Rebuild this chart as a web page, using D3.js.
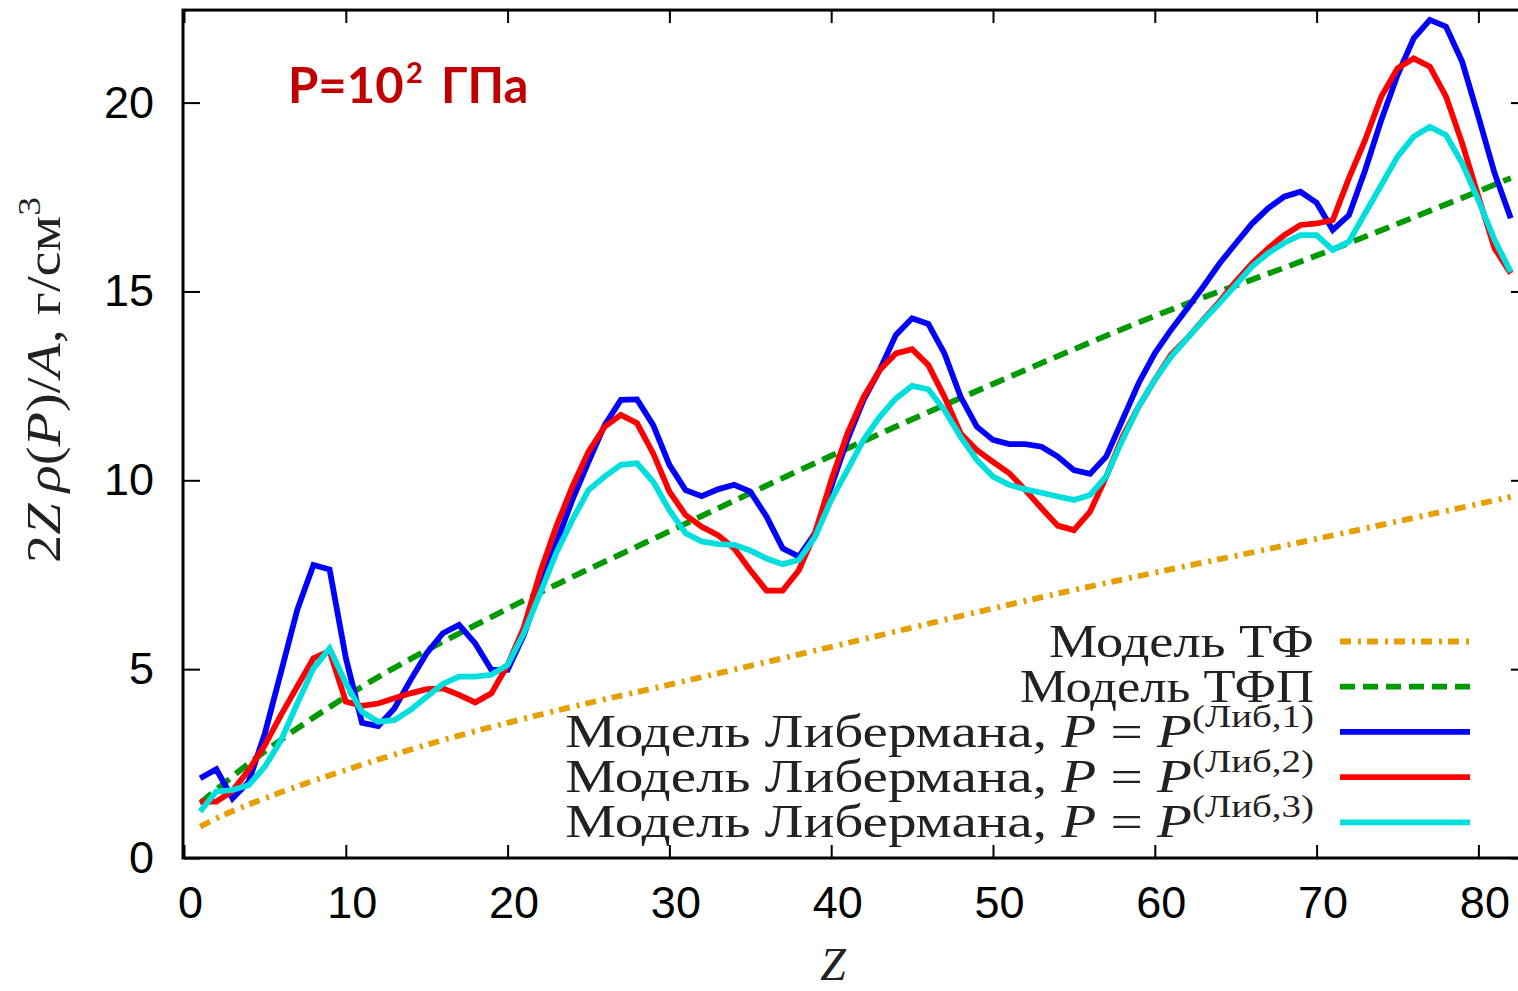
<!DOCTYPE html>
<html><head><meta charset="utf-8">
<script src="https://cdn.jsdelivr.net/npm/d3@7"></script>
<style>html,body{margin:0;padding:0;background:#fff;} svg{display:block;}</style>
</head><body>
<script>
// ---------- data ----------
const zValues = d3.range(1, 83); // Z = 1..82
const lib1 = [2.11,2.35,1.58,2.02,3.30,4.93,6.57,7.76,7.64,5.30,
  3.58,3.49,3.96,4.71,5.42,5.95,6.17,5.68,4.98,4.98,
  5.90,7.14,8.33,9.48,10.49,11.46,12.13,12.14,11.46,10.41,
  9.74,9.58,9.76,9.88,9.70,9.04,8.20,7.98,8.60,9.83,
  11.07,12.13,12.92,13.85,14.29,14.14,13.36,12.21,11.42,11.07,
  10.96,10.96,10.89,10.63,10.27,10.17,10.63,11.60,12.57,13.36,
  13.98,14.55,15.13,15.74,16.27,16.79,17.20,17.51,17.64,17.35,
  16.63,17.02,18.21,19.54,20.73,21.70,22.19,22.01,21.08,19.63,
  18.13,16.94];
const lib2 = [1.49,1.49,1.78,2.33,2.99,3.79,4.54,5.29,5.48,4.14,
  4.03,4.09,4.23,4.36,4.47,4.49,4.32,4.12,4.36,5.11,
  6.10,7.54,8.77,9.83,10.76,11.42,11.73,11.51,10.71,9.70,
  9.08,8.77,8.55,8.20,7.62,7.08,7.08,7.62,8.60,10.00,
  11.24,12.20,12.92,13.36,13.47,13.05,12.21,11.24,10.80,10.49,
  10.19,9.74,9.26,8.80,8.68,9.17,10.10,11.15,11.95,12.66,
  13.32,13.76,14.25,14.73,15.26,15.74,16.14,16.49,16.76,16.80,
  16.89,18.00,19.01,20.16,20.91,21.17,20.95,20.16,18.92,17.51,
  16.14,15.48];
const lib3 = [1.23,1.76,1.80,1.93,2.42,3.12,4.09,5.02,5.55,4.63,
  3.87,3.61,3.65,3.92,4.27,4.61,4.80,4.80,4.85,5.11,
  5.95,7.00,8.07,8.95,9.74,10.10,10.41,10.45,9.96,9.21,
  8.60,8.38,8.31,8.29,8.14,7.93,7.78,7.89,8.50,9.48,
  10.27,11.07,11.68,12.17,12.50,12.41,11.86,11.15,10.54,10.10,
  9.88,9.76,9.67,9.57,9.48,9.61,10.10,11.07,11.95,12.66,
  13.27,13.76,14.24,14.69,15.17,15.66,16.01,16.29,16.49,16.49,
  16.10,16.32,17.07,17.82,18.57,19.10,19.36,19.14,18.39,17.42,
  16.36,15.52];
const tfZ   = [1, 2, 5, 10, 16, 23, 30, 39, 54, 70, 82];
const tfVal = [0.83,1.05,1.58,2.33,3.12,3.90,4.59,5.49,7.00,8.45,9.56];
const tfpZ   = [1, 4, 10, 20, 30, 40, 50, 60, 70, 82];
const tfpVal = [1.45,2.50,4.27,6.60,8.65,10.65,12.55,14.35,15.95,18.00];
const xTicks = [0,10,20,30,40,50,60,70,80];
const yTicks = [0,5,10,15,20];
const legendMain = ["Модель ТФ","Модель ТФП","Модель Либермана, ","Модель Либермана, ","Модель Либермана, "];
const legendSup  = ["","","(Либ,1)","(Либ,2)","(Либ,3)"];
const titleText = ["P=10","2","ГПа"];

// ---------- layout ----------
const W = 1518, H = 991;
const svg = d3.select("body").append("svg").attr("width", W).attr("height", H);
svg.append("rect").attr("width", W).attr("height", H).attr("fill", "#fff");

const x = d3.scaleLinear().domain([0, 83]).range([184, 184 + 83 * 16.18]);
const y = d3.scaleLinear().domain([0, 22.45]).range([858, 858 - 22.45 * 37.77]);

const sansFont = "'Liberation Sans', Arial, Helvetica, sans-serif";
const serifFont = "'Liberation Serif', 'Times New Roman', serif";

// frame
svg.append("rect")
  .attr("x", x(0) - 1).attr("y", y(22.45))
  .attr("width", x(83) - x(0) + 1).attr("height", y(0) - y(22.45))
  .attr("fill", "none").attr("stroke", "#000").attr("stroke-width", 3);

function styleAxis(g) {
  g.select(".domain").remove();
  g.selectAll(".tick line").attr("stroke", "#000").attr("stroke-width", 2);
  g.selectAll(".tick text").attr("fill", "#000").attr("font-family", sansFont).attr("font-size", 45);
}
const gx = svg.append("g").attr("transform", `translate(0,${y(0)})`)
  .call(d3.axisBottom(x).tickValues(xTicks).tickSize(-13).tickPadding(28).tickFormat(d3.format("d")));
styleAxis(gx);
gx.selectAll(".tick text").attr("dx", 6);
const gxt = svg.append("g").attr("transform", `translate(0,${y(22.45)})`)
  .call(d3.axisTop(x).tickValues(xTicks).tickSize(-13).tickFormat(""));
styleAxis(gxt);
const gy = svg.append("g").attr("transform", `translate(${x(0)},0)`)
  .call(d3.axisLeft(y).tickValues(yTicks).tickSize(-16).tickPadding(30).tickFormat(d3.format("d")));
styleAxis(gy);
const gyr = svg.append("g").attr("transform", `translate(${x(83)},0)`)
  .call(d3.axisRight(y).tickValues(yTicks).tickSize(-16).tickFormat(""));
styleAxis(gyr);

// ---------- curves ----------
const series = [
  {z: tfZ, v: tfVal, color: "#e69f00", dash: "11,7,3,6", curve: d3.curveMonotoneX},
  {z: tfpZ, v: tfpVal, color: "#009900", dash: "15,8", curve: d3.curveMonotoneX},
  {z: zValues, v: lib1, color: "#0000ff", dash: null, curve: d3.curveLinear},
  {z: zValues, v: lib2, color: "#ff0000", dash: null, curve: d3.curveLinear},
  {z: zValues, v: lib3, color: "#00dede", dash: null, curve: d3.curveLinear}
];
series.forEach(s => {
  const pts = s.z.map((zz, i) => [zz, s.v[i]]);
  const line = d3.line().x(d => x(d[0])).y(d => y(d[1])).curve(s.curve);
  svg.append("path").datum(pts).attr("d", line)
    .attr("fill", "none").attr("stroke", s.color).attr("stroke-width", 5.8)
    .attr("stroke-linejoin", "miter").attr("stroke-dasharray", s.dash);
});

// ---------- legend ----------
const legY0 = 641.5, legStep = 45.2, legRight = 1314;
const legTargets = [265, 294, 749, 749, 749];
series.forEach((s, i) => {
  const ly = legY0 + i * legStep;
  svg.append("line").attr("x1", 1340).attr("x2", 1470).attr("y1", ly).attr("y2", ly)
    .attr("stroke", s.color).attr("stroke-width", 5.8).attr("stroke-dasharray", s.dash);
  const t = svg.append("text").attr("x", 0).attr("y", 0)
    .attr("text-anchor", "end").attr("font-family", serifFont).attr("font-size", 47)
    .attr("fill", "#222");
  t.append("tspan").text(legendMain[i]);
  if (legendSup[i]) {
    t.append("tspan").attr("font-style", "italic").text("P");
    t.append("tspan").text(" = ");
    t.append("tspan").attr("font-style", "italic").text("P");
    t.append("tspan").attr("font-size", 32).attr("dy", -20).text(legendSup[i]);
  }
  const w = t.node().getBBox().width;
  const sx = legTargets[i] / w;
  t.attr("transform", `translate(${legRight},${ly + 15}) scale(${sx},1)`);
});

// ---------- axis titles ----------
const yl = svg.append("text").attr("x", 0).attr("y", 0).attr("text-anchor", "middle")
  .attr("font-family", serifFont).attr("font-size", 48).attr("fill", "#222");
yl.append("tspan").text("2");
yl.append("tspan").attr("font-style", "italic").text("Z\u2009ρ");
yl.append("tspan").text("(");
yl.append("tspan").attr("font-style", "italic").text("P");
yl.append("tspan").text(")/");
yl.append("tspan").attr("font-style", "italic").text("A");
yl.append("tspan").text(", г/см");
yl.append("tspan").attr("font-size", 32).attr("dy", -20).text("3");
const ylw = yl.node().getBBox().width;
yl.attr("transform", `translate(60,380) rotate(-90) scale(${366 / ylw},1)`);

svg.append("text").attr("x", 833).attr("y", 980).attr("text-anchor", "middle")
  .attr("font-family", serifFont).attr("font-style", "italic").attr("font-size", 46)
  .attr("fill", "#222").text("Z");

// ---------- title ----------
const tt = svg.append("text").attr("y", 103)
  .attr("font-family", "Lato, 'Open Sans', sans-serif").attr("font-weight", "bold")
  .attr("font-size", 49).attr("fill", "#c00000");
tt.append("tspan").attr("x", 288).text(titleText[0]);
tt.append("tspan").attr("x", 406).attr("font-size", 29).attr("dy", -20).text(titleText[1]);
tt.append("tspan").attr("x", 441).attr("font-size", 49).attr("dy", 20).text(titleText[2]);
</script>
</body></html>
